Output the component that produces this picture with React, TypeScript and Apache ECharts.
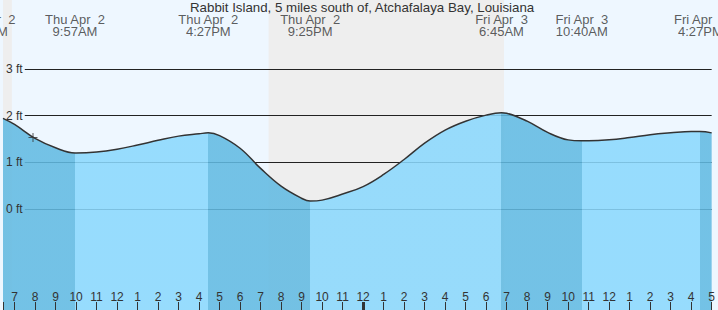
import { useEffect, useRef } from 'react';
import * as echarts from 'echarts';

const TITLE = 'Rabbit Island, 5 miles south of, Atchafalaya Bay, Louisiana';

// Hours counted from Thu Apr 2, 00:00
const tideHours = [6.437, 7, 8, 9, 9.95, 10, 11, 12, 13, 14, 15, 16, 16.45, 17, 18, 19, 20, 21, 21.417, 22, 23, 24, 25, 26, 27, 28, 29, 30, 30.75, 31, 32, 33, 34, 34.667, 35, 36, 37, 38, 39, 40, 40.45, 41];
const tideFeet = [1.94, 1.81, 1.51, 1.31, 1.2, 1.2, 1.22, 1.28, 1.37, 1.47, 1.56, 1.61, 1.63, 1.57, 1.3, 0.87, 0.49, 0.23, 0.17, 0.19, 0.32, 0.48, 0.74, 1.06, 1.41, 1.69, 1.88, 2.01, 2.06, 2.05, 1.88, 1.64, 1.48, 1.46, 1.46, 1.48, 1.53, 1.59, 1.63, 1.66, 1.66, 1.63];

const eventHours = [5.58, 9.95, 16.45, 21.417, 30.75, 34.667, 40.45];
const eventKinds = ['high', 'low', 'high', 'low', 'high', 'low', 'high'];
// second space is a no-break space so the SVG text keeps both
const eventDays = ['Thu Apr\u00a0 2', 'Thu Apr\u00a0 2', 'Thu Apr\u00a0 2', 'Thu Apr\u00a0 2', 'Fri Apr\u00a0 3', 'Fri Apr\u00a0 3', 'Fri Apr\u00a0 3'];
const eventTimes = ['5:35AM', '9:57AM', '4:27PM', '9:25PM', '6:45AM', '10:40AM', '4:27PM'];

const sunriseHours = [6.87, 30.87];
const sunsetHours = [19.39];

const depthLevels = [0, 1, 2, 3];
const nowHour = 7.9;
const nowFeet = 1.53;
const midnightHours = [24];

const X_MIN = 6.437;
const X_MAX = 41.0;
const Y_MIN = -2.163;
const Y_MAX = 4.475;
const LINE_START = 7.5;

const FONT = '"Liberation Sans", Arial, sans-serif';
const TEXT = '#333333';
const DAY = '#eef7ff';
const NIGHT = '#eeeeee';
const WATER_RISING = '#8ad8fd';
const WATER_FALLING = '#61bae2';

export default function App() {
  const ref = useRef<HTMLDivElement>(null);

  useEffect(() => {
    if (!ref.current) return;
    const chart = echarts.init(ref.current, undefined, { renderer: 'svg' });

    // water colour pieces: falling after a high, rising after a low
    const pieces: any[] = [];
    pieces.push({ lt: eventHours[0], color: eventKinds[0] === 'high' ? WATER_RISING : WATER_FALLING });
    for (let i = 0; i < eventHours.length; i++) {
      const p: any = { gte: eventHours[i], color: eventKinds[i] === 'high' ? WATER_FALLING : WATER_RISING };
      if (i + 1 < eventHours.length) p.lt = eventHours[i + 1];
      pieces.push(p);
    }

    const nightStarts = [X_MIN, ...sunsetHours];
    const nightEnds = [...sunriseHours];
    const nightAreas = nightStarts.map((s, i) => [
      { xAxis: s, itemStyle: { color: NIGHT } },
      { xAxis: nightEnds[i] },
    ]);

    const tickFt = ((Y_MAX - Y_MIN) * 8) / 310;

    chart.setOption({
      animation: false,
      backgroundColor: DAY,
      textStyle: { fontFamily: FONT },
      title: {
        text: TITLE,
        left: 190,
        top: 1,
        padding: 0,
        textStyle: { fontSize: 13.3, fontWeight: 'normal', color: TEXT, fontFamily: FONT },
      },
      grid: { left: 0, right: 0, top: 0, bottom: 0 },
      xAxis: {
        type: 'value',
        min: X_MIN,
        max: X_MAX,
        minInterval: 1,
        maxInterval: 1,
        z: 10,
        axisLine: { show: false, onZero: false },
        splitLine: { show: false },
        axisTick: { show: true, inside: true, length: 8, lineStyle: { color: TEXT, width: 1 } },
        axisLabel: {
          show: true,
          inside: true,
          margin: 7,
          color: TEXT,
          fontSize: 12,
          fontFamily: FONT,
          showMinLabel: true,
          showMaxLabel: true,
          hideOverlap: false,
          formatter: (v: number) => {
            if (Math.abs(v - Math.round(v)) > 1e-6) return '';
            const h = Math.round(v) % 12;
            return String(h === 0 ? 12 : h);
          },
        },
      },
      yAxis: {
        type: 'value',
        min: Y_MIN,
        max: Y_MAX,
        z: 10,
        axisLine: { show: false, onZero: false },
        axisTick: { show: false },
        splitLine: { show: false },
        axisLabel: {
          show: true,
          inside: true,
          margin: 3,
          color: TEXT,
          fontSize: 12,
          fontFamily: FONT,
          formatter: (v: number) => {
            const r = Math.round(v);
            if (Math.abs(v - r) > 1e-6) return '';
            return depthLevels.includes(r) ? `${r} ft` : '';
          },
        },
      },
      visualMap: {
        type: 'piecewise',
        show: false,
        dimension: 0,
        seriesIndex: 1,
        pieces,
      },
      series: [
        {
          type: 'line',
          data: [],
          silent: true,
          markArea: {
            silent: true,
            z: 1,
            data: nightAreas,
          },
          markLine: {
            silent: true,
            z: 2,
            symbol: 'none',
            label: { show: false },
            lineStyle: { color: '#222222', width: 1, type: 'solid' },
            data: depthLevels.map((lv) => [{ coord: [LINE_START, lv] }, { coord: [X_MAX, lv] }]),
          },
        },
        {
          type: 'line',
          z: 3,
          smooth: 0.4,
          symbol: 'none',
          silent: true,
          data: tideHours.map((h, i) => [h, tideFeet[i]]),
          lineStyle: { color: '#333333', width: 1.5 },
          areaStyle: { origin: 'start', opacity: 0.87 },
        },
        {
          type: 'scatter',
          z: 5,
          silent: true,
          symbol: 'path://M0,4h9v1h-9zM4,0h1v9h-1z',
          symbolSize: 9,
          itemStyle: { color: '#333333' },
          data: [[nowHour, nowFeet]],
        },
        {
          type: 'scatter',
          z: 6,
          silent: true,
          clip: false,
          symbol: 'circle',
          symbolSize: 0,
          data: eventHours.map((h) => [h, Y_MAX]),
          label: {
            show: true,
            position: 'bottom',
            distance: 13,
            align: 'center',
            color: TEXT,
            fontSize: 13,
            lineHeight: 12.5,
            fontFamily: FONT,
            formatter: (p: any) => `${eventDays[p.dataIndex]}\n${eventTimes[p.dataIndex]}`,
          },
          markLine: {
            silent: true,
            z: 11,
            symbol: 'none',
            label: { show: false },
            lineStyle: { color: '#333333', width: 3, type: 'solid' },
            data: midnightHours.map((m) => [{ coord: [m, Y_MIN] }, { coord: [m, Y_MIN + tickFt] }]),
          },
        },
      ],
    });

    return () => chart.dispose();
  }, []);

  return <div ref={ref} style={{ position: 'absolute', left: 0, top: 0, width: 718, height: 310 }} />;
}
